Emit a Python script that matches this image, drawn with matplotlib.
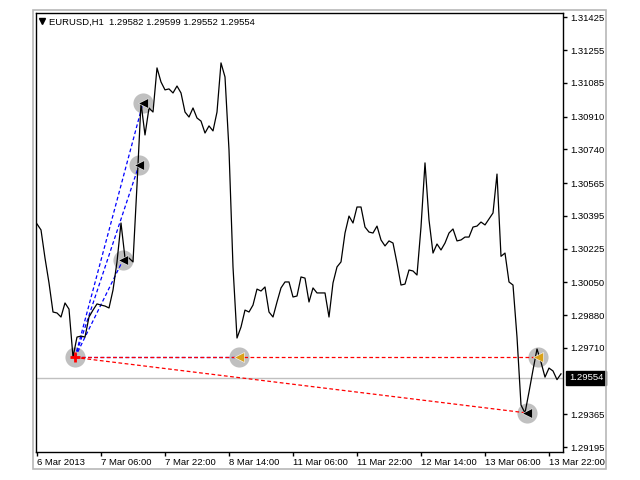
import matplotlib
matplotlib.use("Agg")
import matplotlib.pyplot as plt
from matplotlib.patches import Rectangle
from matplotlib.transforms import blended_transform_factory

plt.rcParams['font.family'] = ['Liberation Sans Narrow', 'Liberation Sans', 'DejaVu Sans']
FS = 6.8

# EURUSD H1 closes, one per bar starting 6 Mar 2013 14:00
closes = [
    1.30353, 1.30322, 1.30176, 1.30047, 1.29896, 1.29891, 1.29870, 1.29943, 1.29911, 1.29662,
    1.29766, 1.29771, 1.29766, 1.29870, 1.29906, 1.29938, 1.29932, 1.29927, 1.29917, 1.30010,
    1.30156, 1.30358, 1.30176, 1.30176, 1.30156, 1.30555, 1.30981, 1.30815, 1.30955, 1.30934,
    1.31163, 1.31090, 1.31049, 1.31054, 1.31033, 1.31069, 1.31033, 1.30934, 1.30908, 1.30955,
    1.30903, 1.30887, 1.30825, 1.30862, 1.30836, 1.30934, 1.31189, 1.31116, 1.30737, 1.30130,
    1.29761, 1.29818, 1.29906, 1.29896, 1.29932, 1.30015, 1.30005, 1.30026, 1.29896, 1.29870,
    1.29948, 1.30021, 1.30052, 1.30052, 1.29974, 1.29979, 1.30078, 1.30072, 1.29948, 1.30021,
    1.29995, 1.29995, 1.29995, 1.29870, 1.30047, 1.30130, 1.30156, 1.30306, 1.30394, 1.30358,
    1.30441, 1.30441, 1.30337, 1.30311, 1.30306, 1.30342, 1.30270, 1.30239, 1.30265, 1.30254,
    1.30150, 1.30036, 1.30041, 1.30114, 1.30109, 1.30088, 1.30337, 1.30670, 1.30374, 1.30202,
    1.30249, 1.30218, 1.30254, 1.30306, 1.30327, 1.30265, 1.30270, 1.30285, 1.30285, 1.30337,
    1.30342, 1.30363, 1.30348, 1.30379, 1.30410, 1.30612, 1.30185, 1.30202, 1.30052, 1.30036,
    1.29766, 1.29413, 1.29372, 1.29481, 1.29595, 1.29704, 1.29636, 1.29558, 1.29605, 1.29590,
    1.29545, 1.29575,
]
bid = 1.29554
header = "EURUSD,H1  1.29582 1.29599 1.29552 1.29554"

xtick_bars = [0, 16, 32, 48, 64, 80, 96, 112, 128]
xtick_labels = ['6 Mar 2013', '7 Mar 06:00', '7 Mar 22:00', '8 Mar 14:00', '11 Mar 06:00',
                '11 Mar 22:00', '12 Mar 14:00', '13 Mar 06:00', '13 Mar 22:00']
ytick_prices = [1.29195, 1.29365, 1.29710, 1.29880, 1.30050, 1.30225, 1.30395,
                1.30565, 1.30740, 1.30910, 1.31085, 1.31255, 1.31425]

# trade arrows
entry_bar, entry_price = 9.5, 1.29660
exit_bars = [21.5, 25.5, 26.5, 122.5]
exit_prices = [1.30166, 1.30659, 1.30981, 1.29372]
gold_bars = [50.5, 125.25]
gold_prices = [1.29660, 1.29660]
blue_targets = [(21.5, 1.30166), (25.5, 1.30659), (26.5, 1.30981), (50.5, 1.29660)]
red_targets = [(125.25, 1.29660), (122.5, 1.29372)]

fig = plt.figure(figsize=(6.4, 4.8), dpi=100)
fig.patches.append(Rectangle((33 / 640, 1 - 469 / 480), 573 / 640, 459 / 480,
                             transform=fig.transFigure, fill=False,
                             edgecolor='#b8b8b8', linewidth=1.2))
ax = fig.add_axes([36 / 640, 1 - 451.5 / 480, 527 / 640, 438.5 / 480])

ax.axhline(bid, color='#c0c0c0', lw=1, zorder=1)

all_bars = exit_bars + gold_bars + [entry_bar]
all_prices = exit_prices + gold_prices + [entry_price]
ax.plot(all_bars, all_prices, 'o', ms=14.5, color='#c0c0c0', mec='none', zorder=2)

for tb, tp in blue_targets:
    ax.plot([entry_bar, tb], [entry_price, tp], color='#0000ff', lw=0.9,
            ls=(0, (3, 2)), zorder=3)
for tb, tp in red_targets:
    ax.plot([entry_bar, tb], [entry_price, tp], color='#ff0000', lw=0.9,
            ls=(0, (3, 2)), zorder=3)

ax.plot(range(len(closes)), closes, color='black', lw=0.9, zorder=4)

ax.plot(exit_bars, exit_prices, '<', ms=6.5, color='black', mec='white', mew=0.4, zorder=5)
ax.plot(gold_bars, gold_prices, '<', ms=6.5, color='#d9a21b', mec='white', mew=0.4, zorder=5)
ax.plot([entry_bar], [entry_price], '+', ms=7, mew=2, color='#ff0000', zorder=5)

ax.set_xlim(-0.25, 131.5)
ax.set_ylim(1.29172, 1.31448)

ax.set_xticks(xtick_bars)
ax.set_xticklabels(xtick_labels)
for lab in ax.get_xticklabels():
    lab.set_ha('left')
ax.set_yticks(ytick_prices)
ax.set_yticklabels(['%.5f' % p for p in ytick_prices])
ax.yaxis.tick_right()
ax.tick_params(axis='both', direction='out', length=3, width=1, color='black',
               labelsize=FS, labelcolor='black')
ax.tick_params(axis='y', pad=2.5)
ax.tick_params(axis='x', pad=1.5)
for s in ax.spines.values():
    s.set_linewidth(1)
    s.set_color('black')

# header and bid box
ax.plot([0.0114], [0.982], 'v', ms=4, color='black', transform=ax.transAxes, clip_on=False)
ax.text(0.0247, 0.9795, header, transform=ax.transAxes, ha='left', va='center',
        fontsize=FS, color='black')
trans = blended_transform_factory(ax.transAxes, ax.transData)
ax.text(1.011, bid, '%.5f' % bid, transform=trans, ha='left', va='center',
        fontsize=FS, color='white', zorder=10, clip_on=False,
        bbox=dict(boxstyle='square,pad=0.25', fc='black', ec='black'))

fig.savefig('out.png', dpi=100, facecolor='white')
